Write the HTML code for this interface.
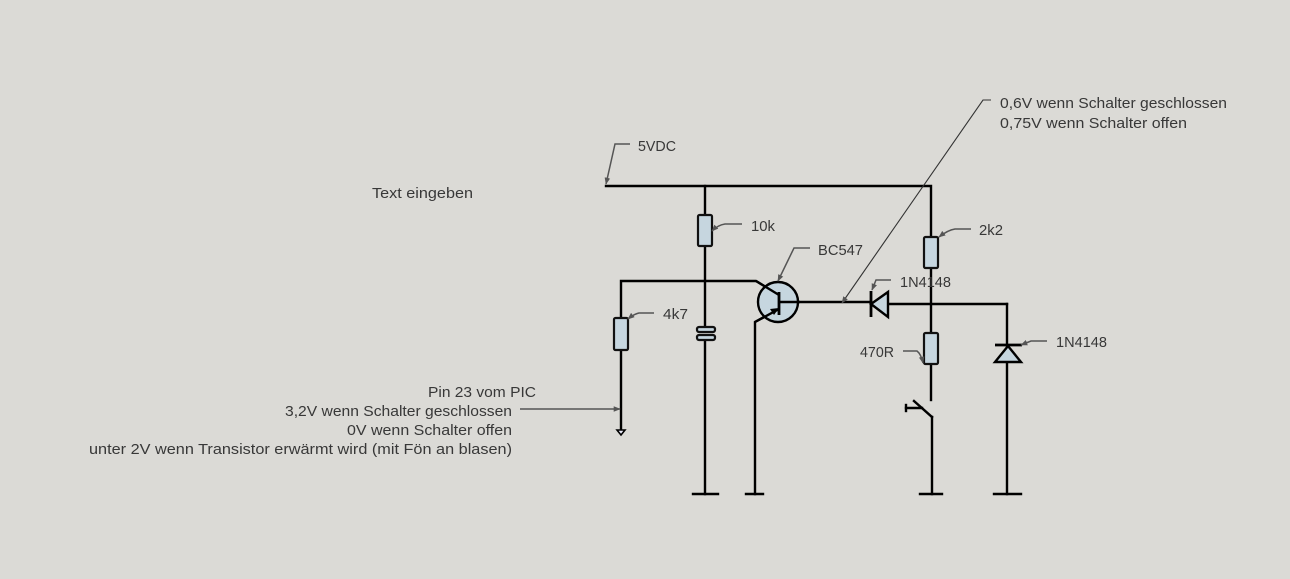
<!DOCTYPE html>
<html>
<head>
<meta charset="utf-8">
<style>
html,body{margin:0;padding:0;background:#dbdad6;}
svg{display:block;}
text{font-family:"Liberation Sans","DejaVu Sans",sans-serif;font-size:15px;fill:#383838;}
</style>
</head>
<body>
<svg width="1290" height="579" viewBox="0 0 1290 579" xmlns="http://www.w3.org/2000/svg">
<rect width="1290" height="579" fill="#dbdad6"/>
<defs>
<marker id="ar" viewBox="0 0 10 10" refX="9" refY="5" markerWidth="7" markerHeight="7" orient="auto" markerUnits="userSpaceOnUse">
<path d="M0,1 L10,5 L0,9 z" fill="#555"/>
</marker>
</defs>

<!-- wires -->
<g stroke="#000" stroke-width="2.4" fill="none" stroke-linecap="square">
  <polyline points="606,186 931,186 931,237"/>
  <line x1="705" y1="186" x2="705" y2="215"/>
  <line x1="705" y1="246" x2="705" y2="327"/>
  <line x1="705" y1="340" x2="705" y2="494"/>
  <line x1="693" y1="494" x2="718" y2="494"/>
  <polyline points="621,318 621,281 756,281 779,295"/>
  <line x1="621" y1="350" x2="621" y2="430"/>
  <polyline points="779,309 755,322 755,494"/>
  <line x1="746" y1="494" x2="763" y2="494"/>
  <line x1="779" y1="302" x2="871" y2="302"/>
  <line x1="888" y1="304" x2="1007" y2="304"/>
  <line x1="1007" y1="304" x2="1007" y2="346"/>
  <line x1="1007" y1="362" x2="1007" y2="494"/>
  <line x1="994" y1="494" x2="1021" y2="494"/>
  <line x1="931" y1="268" x2="931" y2="333"/>
  <line x1="931" y1="365" x2="931" y2="400"/>
  <line x1="914" y1="401" x2="932" y2="417"/>
  <line x1="906" y1="408" x2="922" y2="408"/>
  <line x1="906" y1="405" x2="906" y2="411"/>
  <line x1="932" y1="417" x2="932" y2="494"/>
  <line x1="920" y1="494" x2="942" y2="494"/>
</g>

<!-- resistors -->
<g fill="#c6d6df" stroke="#111" stroke-width="2.2">
  <rect x="698" y="215" width="14" height="31" rx="1.5"/>
  <rect x="924" y="237" width="14" height="31" rx="1.5"/>
  <rect x="924" y="333" width="14" height="31" rx="1.5"/>
  <rect x="614" y="318" width="14" height="32" rx="1.5"/>
  <rect x="697" y="327" width="18" height="5" rx="2"/>
  <rect x="697" y="335" width="18" height="5" rx="2"/>
</g>

<!-- transistor -->
<circle cx="778" cy="302" r="20" fill="#c6d6df" stroke="#000" stroke-width="2.4"/>
<line x1="779" y1="292" x2="779" y2="315" stroke="#000" stroke-width="2.8"/>
<line x1="756" y1="281" x2="779" y2="295" stroke="#000" stroke-width="2.4"/>
<line x1="779" y1="309" x2="755" y2="322" stroke="#000" stroke-width="2.4"/>
<path d="M779,308 L770,309 L774,315 z" fill="#000"/>
<line x1="779" y1="302" x2="800" y2="302" stroke="#000" stroke-width="2.4"/>

<!-- diode 1N4148 horizontal -->
<path d="M871,304 L888,292 L888,317 z" fill="#c6d6df" stroke="#000" stroke-width="2.4"/>
<line x1="871" y1="291" x2="871" y2="317" stroke="#000" stroke-width="2.8"/>

<!-- diode vertical -->
<path d="M1008,346 L995,362 L1021,362 z" fill="#c6d6df" stroke="#000" stroke-width="2.4"/>
<line x1="995" y1="345" x2="1022" y2="345" stroke="#000" stroke-width="2.8"/>

<!-- open end at 621 -->
<path d="M617,430 L625,430 L621,435 z" fill="#eef" stroke="#000" stroke-width="1.6"/>

<!-- leaders -->
<g stroke="#555" stroke-width="1.5" fill="none" marker-end="url(#ar)">
  <polyline points="630,144 615,144 606,184"/>
  <path d="M742,224 L725,224 Q718,225 712,231"/>
  <polyline points="810,248 794,248 778,281"/>
  <path d="M971,229 L955,229 Q948,230 939,237"/>
  <polyline points="891,280 876,280 872,290"/>
  <path d="M654,313 L639,313 Q634,314 628,319"/>
  <path d="M903,351 L917,351 Q921,354 923,363"/>
  <polyline points="1047,341 1031,341 1021,345"/>
  <polyline points="520,409 620,409"/>
</g>
<g stroke="#333" stroke-width="1.1" fill="none" marker-end="url(#ar)">
  <polyline points="991,100 983,100 842,303"/>
</g>

<!-- labels -->
<text x="638" y="151" textLength="38" lengthAdjust="spacingAndGlyphs">5VDC</text>
<text x="372" y="198" textLength="101" lengthAdjust="spacingAndGlyphs">Text eingeben</text>
<text x="751" y="231" textLength="24" lengthAdjust="spacingAndGlyphs">10k</text>
<text x="818" y="255" textLength="45" lengthAdjust="spacingAndGlyphs">BC547</text>
<text x="979" y="235" textLength="24" lengthAdjust="spacingAndGlyphs">2k2</text>
<text x="900" y="287" textLength="51" lengthAdjust="spacingAndGlyphs">1N4148</text>
<text x="663" y="319" textLength="25" lengthAdjust="spacingAndGlyphs">4k7</text>
<text x="860" y="357" textLength="34" lengthAdjust="spacingAndGlyphs">470R</text>
<text x="1056" y="347" textLength="51" lengthAdjust="spacingAndGlyphs">1N4148</text>
<text x="1000" y="108" textLength="227" lengthAdjust="spacingAndGlyphs">0,6V wenn Schalter geschlossen</text>
<text x="1000" y="128" textLength="187" lengthAdjust="spacingAndGlyphs">0,75V wenn Schalter offen</text>
<text x="428" y="397" textLength="108" lengthAdjust="spacingAndGlyphs">Pin 23 vom PIC</text>
<text x="285" y="416" textLength="227" lengthAdjust="spacingAndGlyphs">3,2V wenn Schalter geschlossen</text>
<text x="347" y="435" textLength="165" lengthAdjust="spacingAndGlyphs">0V wenn Schalter offen</text>
<text x="89" y="454" textLength="423" lengthAdjust="spacingAndGlyphs">unter 2V wenn Transistor erwärmt wird (mit Fön an blasen)</text>
</svg>
</body>
</html>
